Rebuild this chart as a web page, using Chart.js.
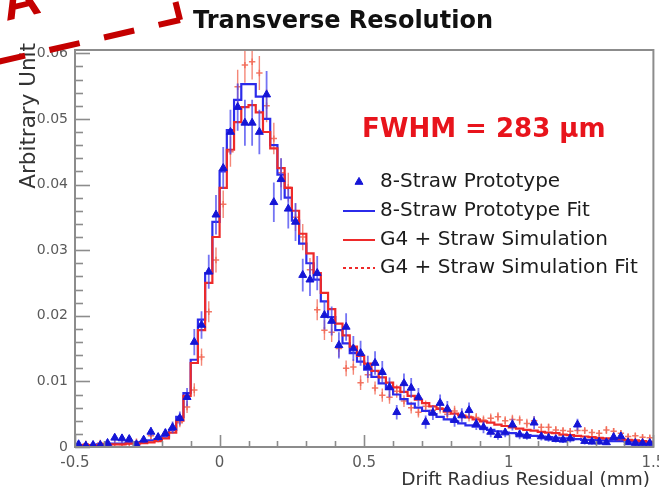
<!DOCTYPE html>
<html>
<head>
<meta charset="utf-8">
<script src="https://cdn.jsdelivr.net/npm/chart.js@4.4.1/dist/chart.umd.min.js"></script>
<style>
  html, body { margin: 0; padding: 0; background: #ffffff; }
  canvas { display: block; }
</style>
</head>
<body>
<canvas id="c" width="659" height="490"></canvas>
<script>
// Histogram binning of the drift radius residual (mm)
const binLow = -0.5;
const binWidth = 0.025;

const seriesLabels = [
  '8-Straw Prototype',
  '8-Straw Prototype Fit',
  'G4 + Straw Simulation',
  'G4 + Straw Simulation Fit'
];

// 8-Straw prototype measurement (per bin) and its uncertainties
const prototypeData = [
  0.0004, 0.0002, 0.0003, 0.0003, 0.0006, 0.0014, 0.0013, 0.0012, 0.0004, 0.0011,
  0.0023, 0.0015, 0.0021, 0.0030, 0.0044, 0.0076, 0.0160, 0.0186, 0.0267, 0.0354,
  0.0425, 0.0480, 0.0518, 0.0494, 0.0494, 0.0480, 0.0537, 0.0373, 0.0408, 0.0363,
  0.0343, 0.0262, 0.0255, 0.0265, 0.0201, 0.0192, 0.0155, 0.0183, 0.0150, 0.0143,
  0.0122, 0.0128, 0.0114, 0.0091, 0.0053, 0.0097, 0.0090, 0.0076, 0.0038, 0.0052,
  0.0067, 0.0058, 0.0041, 0.0048, 0.0056, 0.0035, 0.0030, 0.0023, 0.0018, 0.0022,
  0.0034, 0.0019, 0.0017, 0.0037, 0.0016, 0.0014, 0.0012, 0.0011, 0.0013, 0.0034,
  0.0009, 0.0008, 0.0008, 0.0007, 0.0015, 0.0016, 0.0007, 0.0006, 0.0006, 0.0006
];
const prototypeErr = [
  0.0003, 0.0002, 0.0003, 0.0003, 0.0004, 0.0006, 0.0006, 0.0005, 0.0003, 0.0005,
  0.0007, 0.0006, 0.0007, 0.0009, 0.0010, 0.0014, 0.0020, 0.0021, 0.0026, 0.0030,
  0.0032, 0.0034, 0.0036, 0.0035, 0.0035, 0.0034, 0.0036, 0.0030, 0.0032, 0.0030,
  0.0029, 0.0025, 0.0025, 0.0026, 0.0022, 0.0022, 0.0020, 0.0021, 0.0019, 0.0019,
  0.0017, 0.0018, 0.0017, 0.0015, 0.0011, 0.0015, 0.0015, 0.0014, 0.0010, 0.0011,
  0.0013, 0.0012, 0.0010, 0.0011, 0.0012, 0.0009, 0.0009, 0.0008, 0.0007, 0.0007,
  0.0009, 0.0007, 0.0006, 0.0010, 0.0006, 0.0006, 0.0005, 0.0005, 0.0006, 0.0009,
  0.0005, 0.0004, 0.0004, 0.0004, 0.0006, 0.0006, 0.0004, 0.0004, 0.0004, 0.0004
];

// Fit to the prototype data, drawn as a histogram
const prototypeFit = [
  0.0003, 0.0003, 0.0003, 0.0004, 0.0004, 0.0005, 0.0005, 0.0006, 0.0007, 0.0008,
  0.0010, 0.0012, 0.0016, 0.0026, 0.0046, 0.0082, 0.0133, 0.0194, 0.0265, 0.0343,
  0.0420, 0.0483, 0.0529, 0.0553, 0.0553, 0.0534, 0.0500, 0.0460, 0.0415, 0.0380,
  0.0345, 0.0310, 0.0280, 0.0255, 0.0222, 0.0198, 0.0178, 0.0158, 0.0143, 0.0130,
  0.0118, 0.0107, 0.0097, 0.0088, 0.0080, 0.0073, 0.0066, 0.0060, 0.0055, 0.0050,
  0.0046, 0.0042, 0.0039, 0.0036, 0.0033, 0.0031, 0.0029, 0.0026, 0.0024, 0.0022,
  0.0021, 0.0019, 0.0018, 0.0017, 0.0016, 0.0015, 0.0014, 0.0013, 0.0013, 0.0012,
  0.0011, 0.0011, 0.0010, 0.0010, 0.0009, 0.0009, 0.0008, 0.0008, 0.0007, 0.0006
];

// G4 + straw simulation histogram
const simulation = [
  0.0003, 0.0003, 0.0003, 0.0003, 0.0004, 0.0004, 0.0004, 0.0005, 0.0005, 0.0006,
  0.0007, 0.0009, 0.0013, 0.0022, 0.0040, 0.0078, 0.0128, 0.0178, 0.0250, 0.0320,
  0.0395, 0.0453, 0.0495, 0.0518, 0.0521, 0.0510, 0.0480, 0.0455, 0.0425, 0.0395,
  0.0360, 0.0325, 0.0295, 0.0265, 0.0235, 0.0210, 0.0188, 0.0170, 0.0153, 0.0139,
  0.0127, 0.0116, 0.0106, 0.0098, 0.0091, 0.0084, 0.0078, 0.0072, 0.0067, 0.0062,
  0.0058, 0.0054, 0.0051, 0.0048, 0.0045, 0.0042, 0.0039, 0.0037, 0.0034, 0.0032,
  0.0030, 0.0028, 0.0026, 0.0025, 0.0023, 0.0022, 0.0021, 0.0019, 0.0018, 0.0017,
  0.0016, 0.0015, 0.0014, 0.0013, 0.0013, 0.0012, 0.0011, 0.0010, 0.0009, 0.0008
];

// G4 + straw simulation fit, drawn as points with uncertainties
const simulationFit = [
  0.0003, 0.0005, 0.0004, 0.0006, 0.0003, 0.0005, 0.0004, 0.0006, 0.0008, 0.0010,
  0.0017, 0.0012, 0.0020, 0.0029, 0.0037, 0.0061, 0.0087, 0.0137, 0.0206, 0.0285,
  0.0370, 0.0450, 0.0549, 0.0582, 0.0587, 0.0570, 0.0520, 0.0470, 0.0418, 0.0396,
  0.0350, 0.0320, 0.0270, 0.0209, 0.0178, 0.0175, 0.0150, 0.0120, 0.0122, 0.0098,
  0.0110, 0.0090, 0.0079, 0.0076, 0.0085, 0.0070, 0.0060, 0.0053, 0.0062, 0.0056,
  0.0060, 0.0050, 0.0055, 0.0048, 0.0047, 0.0045, 0.0041, 0.0044, 0.0046, 0.0040,
  0.0042, 0.0041, 0.0036, 0.0040, 0.0030, 0.0030, 0.0026, 0.0025, 0.0024, 0.0025,
  0.0025, 0.0022, 0.0021, 0.0026, 0.0024, 0.0021, 0.0016, 0.0017, 0.0015, 0.0014
];
const simulationFitErr = [
  0.0002, 0.0002, 0.0002, 0.0003, 0.0002, 0.0002, 0.0002, 0.0003, 0.0003, 0.0003,
  0.0005, 0.0004, 0.0005, 0.0006, 0.0007, 0.0009, 0.0010, 0.0013, 0.0016, 0.0019,
  0.0021, 0.0023, 0.0026, 0.0027, 0.0027, 0.0026, 0.0025, 0.0024, 0.0022, 0.0022,
  0.0021, 0.0020, 0.0018, 0.0016, 0.0015, 0.0015, 0.0013, 0.0012, 0.0012, 0.0011,
  0.0012, 0.0010, 0.0010, 0.0010, 0.0010, 0.0009, 0.0009, 0.0008, 0.0009, 0.0008,
  0.0009, 0.0008, 0.0008, 0.0008, 0.0008, 0.0007, 0.0007, 0.0007, 0.0007, 0.0007,
  0.0007, 0.0007, 0.0007, 0.0007, 0.0006, 0.0006, 0.0006, 0.0005, 0.0005, 0.0005,
  0.0005, 0.0005, 0.0005, 0.0006, 0.0005, 0.0005, 0.0004, 0.0005, 0.0004, 0.0004
];

// Axis ranges and annotation text
const xRange = [-0.5, 1.5];
const yRange = [0, 0.0605];
const xTickStep = 0.5, xMinorStep = 0.1;
const yTickStep = 0.01, yMinorStep = 0.002;
const titleText = 'Transverse Resolution';
const xTitle = 'Drift Radius Residual (mm)';
const yTitle = 'Arbitrary Unit';
const fwhmText = 'FWHM = 283 \u00B5m';
const panelLetter = 'A';

// ---- helpers building Chart.js point lists from the arrays ----
const centred = (vals) => vals.map((v, i) => ({ x: binLow + (i + 0.5) * binWidth, y: v }));
const stepped = (vals) => vals.map((v, i) => ({ x: binLow + i * binWidth, y: v }))
  .concat([{ x: binLow + vals.length * binWidth, y: vals[vals.length - 1] }]);
const fmt = (v) => String(+Number(v).toFixed(3));

const FONT = "'DejaVu Sans', 'Liberation Sans', sans-serif";

// vertical uncertainty bars, drawn under each marker set
const errorBars = {
  id: 'errorBars',
  beforeDatasetDraw(chart, args) {
    const ds = chart.data.datasets[args.index];
    if (!ds.errors) return;
    const ctx = chart.ctx, ys = chart.scales.y, area = chart.chartArea;
    ctx.save();
    ctx.beginPath();
    ctx.rect(area.left, area.top, area.right - area.left, area.bottom - area.top);
    ctx.clip();
    ctx.strokeStyle = ds.errorColor;
    ctx.lineWidth = ds.errorWidth;
    args.meta.data.forEach((pt, i) => {
      const v = ds.data[i].y, e = ds.errors[i];
      ctx.beginPath();
      ctx.moveTo(pt.x, ys.getPixelForValue(v + e));
      ctx.lineTo(pt.x, ys.getPixelForValue(Math.max(0, v - e)));
      ctx.stroke();
    });
    ctx.restore();
  }
};

// frame, inward tick marks, titles, legend and annotations
const decorations = {
  id: 'decorations',
  afterDraw(chart) {
    const ctx = chart.ctx, a = chart.chartArea;
    const xs = chart.scales.x, ys = chart.scales.y;
    ctx.save();

    // frame
    ctx.strokeStyle = '#8c8c8c';
    ctx.lineWidth = 2;
    ctx.strokeRect(a.left, a.top, a.right - a.left, a.bottom - a.top);

    // tick marks pointing into the frame
    ctx.lineWidth = 1.6;
    ctx.strokeStyle = '#8c8c8c';
    const nY = Math.round((yRange[1] - yRange[0]) / yMinorStep);
    for (let i = 0; i <= nY; i++) {
      const v = yRange[0] + i * yMinorStep;
      if (v > yRange[1]) break;
      const major = (i % Math.round(yTickStep / yMinorStep)) === 0;
      const py = Math.round(ys.getPixelForValue(v)) + 0.5;
      ctx.beginPath();
      ctx.moveTo(a.left, py);
      ctx.lineTo(a.left + (major ? 15 : 8), py);
      ctx.stroke();
    }
    const nX = Math.round((xRange[1] - xRange[0]) / xMinorStep);
    for (let i = 0; i <= nX; i++) {
      const v = xRange[0] + i * xMinorStep;
      const major = (i % Math.round(xTickStep / xMinorStep)) === 0;
      const px = Math.round(xs.getPixelForValue(v)) + 0.5;
      ctx.beginPath();
      ctx.moveTo(px, a.bottom);
      ctx.lineTo(px, a.bottom - (major ? 12 : 6));
      ctx.stroke();
    }

    // title
    ctx.fillStyle = '#111';
    ctx.font = 'bold 24px ' + FONT;
    ctx.textAlign = 'center';
    ctx.textBaseline = 'alphabetic';
    ctx.fillText(titleText, 343, 28);

    // axis titles
    ctx.fillStyle = '#333';
    ctx.font = '18.5px ' + FONT;
    ctx.textAlign = 'right';
    ctx.textBaseline = 'middle';
    ctx.fillText(xTitle, 650, 480);

    ctx.save();
    ctx.translate(29, 43);
    ctx.rotate(-Math.PI / 2);
    ctx.font = '21.5px ' + FONT;
    ctx.textAlign = 'right';
    ctx.textBaseline = 'middle';
    ctx.fillText(yTitle, 0, 0);
    ctx.restore();

    // FWHM statement
    ctx.fillStyle = '#e8141c';
    ctx.font = 'bold 26px ' + FONT;
    ctx.textAlign = 'left';
    ctx.textBaseline = 'middle';
    ctx.fillText(fwhmText, 362, 130);

    // legend
    const ds = chart.data.datasets;
    const entries = [
      { d: ds[0], kind: 'marker' },
      { d: ds[2], kind: 'line' },
      { d: ds[1], kind: 'line' },
      { d: ds[3], kind: 'dotted' }
    ];
    const rowY = [182, 211, 240, 268];
    entries.forEach((en, i) => {
      const y = rowY[i];
      if (en.kind === 'marker') {
        ctx.fillStyle = en.d.pointBackgroundColor;
        ctx.strokeStyle = en.d.pointBorderColor;
        ctx.lineWidth = 1;
        Chart.helpers.drawPoint(ctx, { pointStyle: 'triangle', radius: 4.6, borderWidth: 1, rotation: 0 }, 359, y);
      } else {
        ctx.strokeStyle = en.kind === 'dotted' ? en.d.legendColor : en.d.borderColor;
        ctx.lineWidth = 2;
        ctx.setLineDash(en.kind === 'dotted' ? [3, 3] : []);
        ctx.beginPath();
        ctx.moveTo(343, y);
        ctx.lineTo(375, y);
        ctx.stroke();
        ctx.setLineDash([]);
      }
      ctx.fillStyle = '#1c1c1c';
      ctx.font = '20px ' + FONT;
      ctx.textAlign = 'left';
      ctx.textBaseline = 'middle';
      ctx.fillText(en.d.label, 380, y);
    });

    // red panel marker with the dashed outline corner
    ctx.strokeStyle = '#c40000';
    ctx.lineWidth = 6;
    ctx.lineCap = 'butt';
    ctx.beginPath();
    ctx.moveTo(180, 20);
    ctx.lineTo(175.5, 2);
    ctx.stroke();
    ctx.setLineDash([31, 25]);
    ctx.lineDashOffset = 9;
    ctx.beginPath();
    ctx.moveTo(180, 20);
    ctx.lineTo(-20, 66);
    ctx.stroke();
    ctx.setLineDash([]);

    ctx.save();
    ctx.translate(6, 21);
    ctx.rotate(-0.23);
    ctx.fillStyle = '#c40000';
    ctx.font = "bold 52px 'Liberation Sans', sans-serif";
    ctx.textAlign = 'left';
    ctx.textBaseline = 'alphabetic';
    ctx.fillText(panelLetter, 0, 0);
    ctx.restore();

    ctx.restore();
  }
};

new Chart(document.getElementById('c'), {
  type: 'line',
  data: {
    datasets: [
      {
        label: seriesLabels[0],
        data: centred(prototypeData),
        showLine: false,
        pointStyle: 'triangle',
        pointRadius: 4.6,
        pointBackgroundColor: '#1515d6',
        pointBorderColor: '#1515d6',
        pointBorderWidth: 1,
        errors: prototypeErr,
        errorColor: 'rgba(70,70,240,0.75)',
        errorWidth: 1.8
      },
      {
        label: seriesLabels[2],
        data: stepped(simulation),
        stepped: 'before',
        borderColor: '#ee2a2a',
        borderWidth: 2.2,
        pointRadius: 0,
        fill: false
      },
      {
        label: seriesLabels[1],
        data: stepped(prototypeFit),
        stepped: 'before',
        borderColor: '#2b2bea',
        borderWidth: 2.2,
        pointRadius: 0,
        fill: false
      },
      {
        label: seriesLabels[3],
        data: centred(simulationFit),
        showLine: false,
        pointStyle: 'cross',
        pointRadius: 3.2,
        pointBorderColor: 'rgba(242,105,85,0.9)',
        pointBorderWidth: 1.5,
        legendColor: '#ee2a2a',
        errors: simulationFitErr,
        errorColor: 'rgba(242,105,85,0.8)',
        errorWidth: 1.4
      }
    ]
  },
  options: {
    responsive: false,
    animation: false,
    devicePixelRatio: 1,
    events: [],
    layout: { padding: { top: 50, right: 2, left: 0, bottom: 0 } },
    plugins: {
      legend: { display: false },
      tooltip: { enabled: false },
      title: { display: false }
    },
    scales: {
      x: {
        type: 'linear',
        min: xRange[0],
        max: xRange[1],
        grid: { display: false, drawTicks: false },
        border: { display: false },
        ticks: {
          stepSize: xTickStep,
          includeBounds: false,
          autoSkip: false,
          maxRotation: 0,
          padding: 7,
          color: '#5a5a5a',
          font: { family: FONT, size: 15 },
          callback: (v) => fmt(v)
        },
        afterFit: (s) => { s.height = 43; s.paddingLeft = 0; s.paddingRight = 0; }
      },
      y: {
        type: 'linear',
        min: yRange[0],
        max: yRange[1],
        grid: { display: false, drawTicks: false },
        border: { display: false },
        ticks: {
          stepSize: yTickStep,
          includeBounds: false,
          padding: 7,
          color: '#5a5a5a',
          font: { family: FONT, size: 14 },
          callback: (v) => fmt(v)
        },
        afterFit: (s) => { s.width = 75; s.paddingTop = 0; s.paddingBottom = 0; }
      }
    }
  },
  plugins: [errorBars, decorations]
});
</script>
</body>
</html>
